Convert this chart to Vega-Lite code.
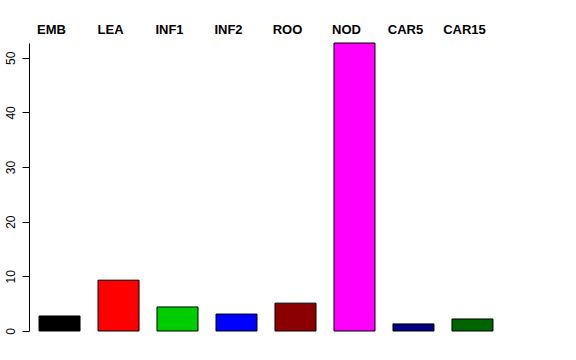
{
  "$schema": "https://vega.github.io/schema/vega-lite/v6.json",
  "autosize": "none",
  "width": 474,
  "height": 288,
  "padding": {"left": 29, "top": 43, "right": 73, "bottom": 29},
  "background": "white",
  "config": {"view": {"stroke": null}, "font": "Liberation Sans"},
  "data": {"values": [
    {"k": "EMB", "v": 2.75, "c": "#000000"},
    {"k": "LEA", "v": 9.3, "c": "#FF0000"},
    {"k": "INF1", "v": 4.4, "c": "#00CD00"},
    {"k": "INF2", "v": 3.1, "c": "#0000FF"},
    {"k": "ROO", "v": 5.1, "c": "#8B0000"},
    {"k": "NOD", "v": 52.7, "c": "#FF00FF"},
    {"k": "CAR5", "v": 1.3, "c": "#000080"},
    {"k": "CAR15", "v": 2.2, "c": "#006400"}
  ]},
  "mark": {"type": "bar", "stroke": "black", "strokeWidth": 1},
  "encoding": {
    "x": {"field": "k", "type": "nominal", "sort": null,
      "scale": {"paddingInner": 0.305, "paddingOuter": 0.17},
      "axis": {"orient": "top", "title": null, "domain": false, "ticks": false, "labelAngle": 0, "labelOffset": -8,
        "labelFont": "Liberation Sans", "labelFontWeight": "bold", "labelFontSize": 13, "labelColor": "black", "labelPadding": 7}},
    "y": {"field": "v", "type": "quantitative",
      "scale": {"domain": [0, 52.7], "nice": false, "zero": true},
      "axis": {"title": null, "values": [0, 10, 20, 30, 40, 50], "grid": false, "domainColor": "black", "tickColor": "black", "tickSize": 7,
        "labelAngle": 270, "labelAlign": "center", "labelBaseline": "bottom", "labelPadding": 5, "labelFontSize": 12, "labelColor": "black", "labelFont": "Liberation Sans", "labelFlush": false}},
    "fill": {"field": "c", "type": "nominal", "scale": null}
  }
}
